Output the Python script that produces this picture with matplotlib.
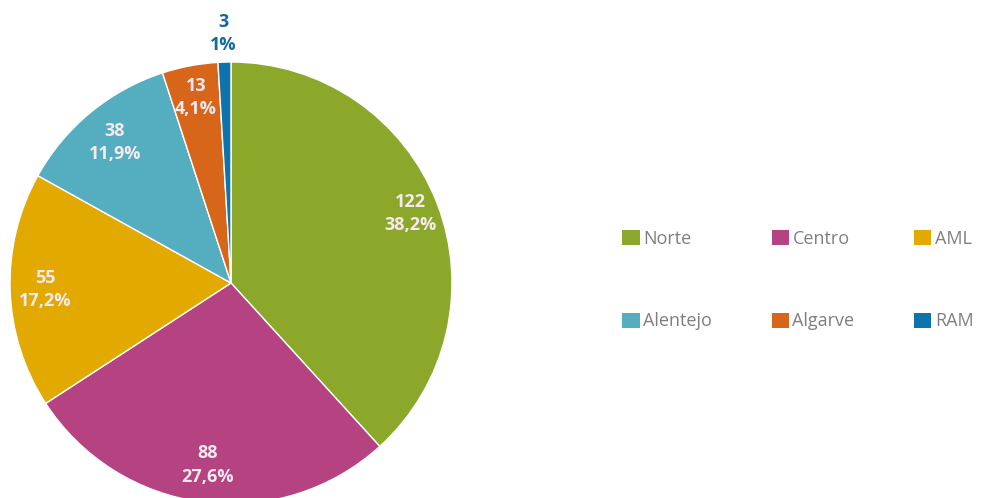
import numpy as np
import matplotlib
matplotlib.use("Agg")
import matplotlib.pyplot as plt
from matplotlib.patches import Patch

# regional counts
regions = ["Norte", "Centro", "AML", "Alentejo", "Algarve", "RAM"]
counts = [122, 88, 55, 38, 13, 3]
pct_labels = ["38,2%", "27,6%", "17,2%", "11,9%", "4,1%", "1%"]
colors = ["#8BA82B", "#B54281", "#E2AA00", "#55AEC0", "#D7661A", "#0F74AC"]

# how far from the centre each data label sits (fraction of the radius)
label_r = [0.87, 0.83, 0.84, 0.825, 0.855, 1.13]

plt.rcParams["font.family"] = ["Open Sans", "DejaVu Sans"]

fig = plt.figure(figsize=(9.85, 4.98), dpi=100)
W, H = 985, 498
cx, cy, r = 231, 283, 221
ax = fig.add_axes([(cx - r) / W, (H - cy - r) / H, 2 * r / W, 2 * r / H])

wedges, _ = ax.pie(counts, colors=colors, startangle=90, counterclock=False,
                   radius=1.0, wedgeprops=dict(edgecolor="white", linewidth=1.0))
ax.set_xlim(-1, 1)
ax.set_ylim(-1, 1)
ax.set_aspect("equal")
ax.axis("off")

for w, n, p, rr in zip(wedges, counts, pct_labels, label_r):
    ang = np.deg2rad((w.theta1 + w.theta2) / 2)
    x, y = rr * np.cos(ang), rr * np.sin(ang)
    col = "#0F6AA0" if rr > 1 else "#F6E9F0"
    ax.text(x, y, f"{n}\n{p}", ha="center", va="center", fontsize=13,
            fontweight="bold", color=col, linespacing=1.4, clip_on=False)

# legend fills column by column, so reorder to read row by row
ncol = 3
order = [i * ncol + j for j in range(ncol) for i in range(len(regions) // ncol)]
handles = [Patch(facecolor=colors[k], edgecolor="none") for k in order]
labels = [regions[k] for k in order]
fig.legend(handles, labels, loc="center", ncol=ncol,
           bbox_to_anchor=(798 / W, 1 - 280 / H), frameon=False,
           fontsize=13, labelcolor="#7F7F7F", handlelength=0.95,
           handleheight=0.95, handletextpad=0.2, columnspacing=3.3,
           labelspacing=3.6)

fig.savefig("out.png", dpi=100)
